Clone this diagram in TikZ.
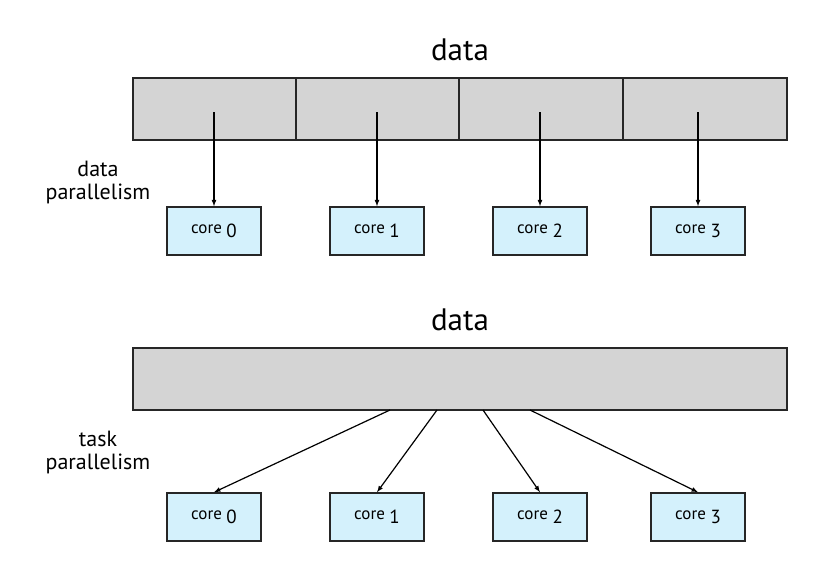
\documentclass[tikz,border=0pt]{standalone}
\usepackage{fontspec}
\setmainfont{PT Sans}
\newcommand{\csub}[1]{\raisebox{-4pt}{\fontsize{19}{22}\selectfont #1}}
\begin{document}
\begin{tikzpicture}[x=1pt,y=-1pt,
  bar/.style={draw=black!85,fill=black!17,line width=1.5pt},
  core/.style={draw=black!85,fill=cyan!17!white,line width=1.5pt,minimum width=94pt,minimum height=48pt,font=\fontsize{17}{20}\selectfont},
  arr/.style={-latex,line width=1.2pt},
  lbl/.style={font=\fontsize{22}{26}\selectfont,align=center},
  ttl/.style={font=\fontsize{31}{35}\selectfont}]
\useasboundingbox (0,0) rectangle (816,579);
\node[ttl] (d1) at (460,50) {data};
\node[ttl] (d2) at (460,320) {data};
\foreach \i/\a/\b in {0/133/296,1/296/459,2/459/623,3/623/787}{
  \path[bar] (\a,78) rectangle (\b,140);
}
\path[bar] (133,348) rectangle (787,410);
\foreach \i/\x in {0/214,1/377,2/540,3/698}{
  \node[core] (c\i) at (\x,231) {core \csub{\i}};
  \node[core] (t\i) at (\x,517) {core \csub{\i}};
  \coordinate (s\i) at (\x,112);
  \draw[arr] (s\i) -- (c\i.north);
}
\coordinate (b0) at (390,410);
\coordinate (b1) at (437,410);
\coordinate (b2) at (483,410);
\coordinate (b3) at (530,410);
\foreach \i in {0,...,3}{ \draw[arr] (b\i) -- (t\i.north); }
\node[lbl] (l1) at (98,182) {data\\[-3pt]parallelism};
\node[lbl] (l2) at (98,452) {task\\[-3pt]parallelism};
\end{tikzpicture}
\end{document}
